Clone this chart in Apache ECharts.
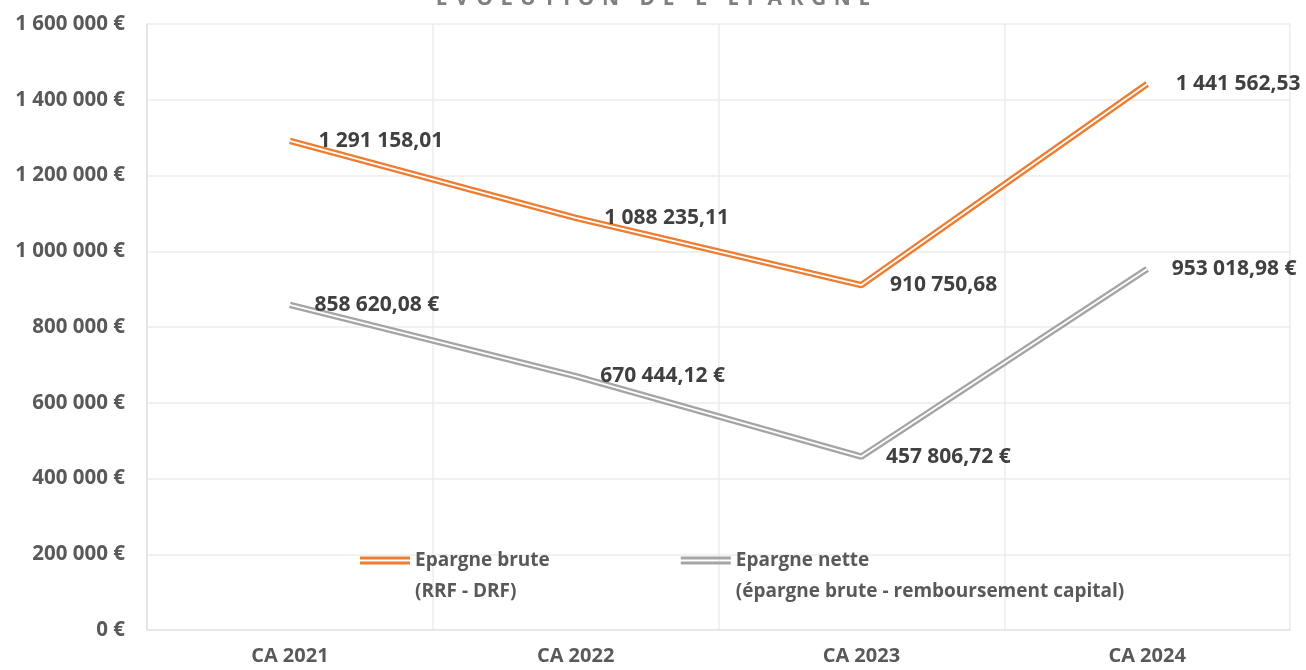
<!DOCTYPE html>
<html>
<head>
<meta charset="utf-8">
<script src="https://cdn.jsdelivr.net/npm/echarts@6/dist/echarts.min.js"></script>
<style>
  html, body { margin: 0; padding: 0; background: #fff; }
  #chartDom { width: 1306px; height: 670px; }
</style>
</head>
<body>
<div id="chartDom"></div>
<script>
// données de l'épargne
const categories = ["CA 2021", "CA 2022", "CA 2023", "CA 2024"];
const epargneBrute = [1291158.01, 1088235.11, 910750.68, 1441562.53];
const epargneNette = [858620.08, 670444.12, 457806.72, 953018.98];
const nomBrute = "Epargne brute\n(RRF - DRF)";
const nomNette = "Epargne nette\n(épargne brute - remboursement capital)";

const police = "'Open Sans', 'DejaVu Sans', sans-serif";
const orange = "#ED7D31";
const gris = "#A5A5A5";

// format français : 1 291 158,01
function fr(v, euro) {
  let parts = v.toFixed(2).split(".");
  let ent = parts[0].replace(/\B(?=(\d{3})+(?!\d))/g, " ");
  return ent + "," + parts[1] + (euro ? " €" : "");
}

// titre espacé
const titre = "ÉVOLUTION DE L'ÉPARGNE".split("").join(" \u200A");

let chart = echarts.init(document.getElementById("chartDom"));

// ligne double : trait épais coloré + trait blanc fin au milieu
function ligneDouble(nom, data, couleur, euro) {
  return [
    {
      name: nom,
      type: "line",
      data: data,
      symbol: "none",
      color: couleur,
      itemStyle: { color: couleur },
      lineStyle: { color: couleur, width: 6.5 },
      z: 2,
      silent: true
    },
    {
      name: nom + "_blanc",
      type: "line",
      data: data,
      symbol: "circle",
      symbolSize: 1,
      showSymbol: true,
      itemStyle: { color: "#fff" },
      lineStyle: { color: "#fff", width: 1.8 },
      z: 3,
      label: {
        show: true,
        position: "right",
        distance: euro ? 24 : 28,
        formatter: (p) => fr(p.value, euro),
        fontFamily: police,
        fontWeight: "bold",
        fontSize: 21,
        color: "#404040"
      }
    }
  ];
}

chart.setOption({
  animation: false,
  title: {
    text: titre,
    left: "center",
    top: -16,
    textStyle: {
      fontFamily: police,
      fontSize: 21,
      fontWeight: "bold",
      color: "#7f7f7f"
    }
  },
  grid: {
    left: 147,
    right: 16,
    top: 24,
    bottom: 40
  },
  legend: {
    data: [nomBrute, nomNette],
    left: 360,
    top: 514,
    padding: 0,
    itemGap: 131,
    itemWidth: 50,
    itemHeight: 8,
    icon: "path://M0 0H50V3H0Z M0 5H50V8H0Z",
    formatter: (name) => "\n" + name,
    textStyle: {
      fontFamily: police,
      fontSize: 19,
      fontWeight: "bold",
      color: "#595959",
      lineHeight: 31
    }
  },
  xAxis: {
    type: "category",
    data: categories,
    axisTick: { show: false },
    axisLine: { show: true, lineStyle: { color: "#e3e3e3", width: 1.5 } },
    splitLine: { show: true, lineStyle: { color: "#ececec", width: 1.5 } },
    axisLabel: {
      fontFamily: police,
      fontSize: 20,
      fontWeight: "bold",
      color: "#595959",
      margin: 16
    }
  },
  yAxis: {
    type: "value",
    min: 0,
    max: 1600000,
    interval: 200000,
    axisLine: { show: true, lineStyle: { color: "#e3e3e3", width: 1.5 } },
    splitLine: { lineStyle: { color: "#ececec", width: 1.5 } },
    axisLabel: {
      fontFamily: police,
      fontSize: 20.5,
      fontWeight: "bold",
      color: "#595959",
      margin: 22,
      formatter: (v) => String(v).replace(/\B(?=(\d{3})+(?!\d))/g, " ") + " €"
    }
  },
  series: [
    ...ligneDouble(nomBrute, epargneBrute, orange, false),
    ...ligneDouble(nomNette, epargneNette, gris, true)
  ]
});
</script>
</body>
</html>
